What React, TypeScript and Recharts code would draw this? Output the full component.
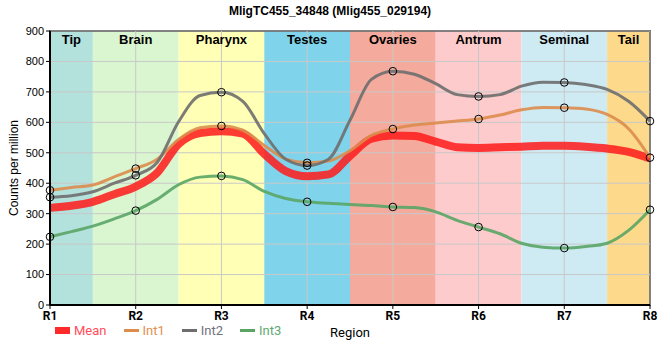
import React from 'react';
import {
  LineChart,
  Line,
  XAxis,
  YAxis,
  ReferenceArea,
  ReferenceLine,
  Legend,
} from 'recharts';

// positions along the body (R1..R8 plus readings between the regions)
const positions = [1, 1.25, 1.5, 1.75, 2, 2.25, 2.5, 2.75, 3, 3.25, 3.5, 3.75, 4, 4.25, 4.5, 4.75, 5, 5.25, 5.5, 5.75, 6, 6.25, 6.5, 6.75, 7, 7.25, 7.5, 7.75, 8];
const meanValues = [319, 326, 339, 364, 389, 434, 529, 565, 571, 563, 496, 440, 423, 429, 490, 546, 557, 555, 537, 518, 516, 518, 520, 523, 523, 520, 514, 503, 481];
const int1Values = [377, 386, 394, 421, 448, 479, 544, 582, 588, 574, 524, 479, 467, 473, 507, 557, 578, 591, 598, 604, 611, 624, 641, 649, 648, 644, 626, 579, 484];
const int2Values = [354, 359, 372, 400, 426, 468, 602, 688, 699, 669, 563, 479, 458, 479, 607, 741, 768, 758, 727, 691, 685, 691, 719, 732, 731, 724, 708, 669, 604];
const int3Values = [224, 241, 259, 283, 310, 347, 395, 420, 424, 412, 373, 350, 339, 334, 330, 327, 322, 320, 306, 278, 256, 234, 203, 190, 187, 192, 203, 245, 313];

const regionTicks = ['R1', 'R2', 'R3', 'R4', 'R5', 'R6', 'R7', 'R8'];
const regionPos = [1, 2, 3, 4, 5, 6, 7, 8];
const tissueNames = ['Tip', 'Brain', 'Pharynx', 'Testes', 'Ovaries', 'Antrum', 'Seminal', 'Tail'];
const tissueStart = [1, 1.5, 2.5, 3.5, 4.5, 5.5, 6.5, 7.5];
const tissueEnd = [1.5, 2.5, 3.5, 4.5, 5.5, 6.5, 7.5, 8];
const tissueColors = ['#b3e2dd', '#d9f6d0', '#ffffb6', '#7fd4eb', '#f4ab9d', '#fdcbcb', '#ceebf4', '#fdd98b'];

const yTicks = [0, 100, 200, 300, 400, 500, 600, 700, 800, 900];

const data = positions.map((x, i) => ({
  x,
  Mean: meanValues[i],
  Int1: int1Values[i],
  Int2: int2Values[i],
  Int3: int3Values[i],
}));

const legendItems = [
  { name: 'Mean', color: '#ff2a2a', text: '#ff4d5a', thick: true },
  { name: 'Int1', color: '#dd8c4c', text: '#e0904f', thick: false },
  { name: 'Int2', color: '#6e6e6e', text: '#707080', thick: false },
  { name: 'Int3', color: '#5aa566', text: '#5fa873', thick: false },
];

const regionDot = (p: any) => {
  if (!Number.isInteger(p.payload.x)) return <g key={`d-${p.index}`} />;
  return (
    <circle
      key={`d-${p.index}`}
      cx={p.cx}
      cy={p.cy}
      r={3.8}
      fill="none"
      stroke="#000"
      strokeWidth={1}
    />
  );
};

const renderLegend = () => (
  <div style={{ display: 'flex', alignItems: 'center', paddingLeft: 55, fontFamily: 'Roboto, sans-serif', fontSize: 13 }}>
    {legendItems.map((item) => (
      <div key={item.name} style={{ display: 'flex', alignItems: 'center', marginRight: 17 }}>
        <span
          style={{
            display: 'inline-block',
            width: 15,
            height: item.thick ? 7 : 3,
            background: item.color,
            marginRight: 4,
          }}
        />
        <span style={{ color: item.text }}>{item.name}</span>
      </div>
    ))}
  </div>
);

export default function App() {
  return (
    <div style={{ position: 'absolute', left: 0, top: 0, width: 660, height: 360, fontFamily: '"Liberation Sans", Arial, sans-serif', background: '#fff' }}>
      <div
        style={{
          position: 'absolute',
          top: 4,
          left: 0,
          width: 660,
          textAlign: 'center',
          fontWeight: 'bold',
          fontSize: 12,
        }}
      >
        MligTC455_34848 (Mlig455_029194)
      </div>
      <LineChart
        width={660}
        height={360}
        data={data}
        margin={{ top: 31, right: 10, bottom: 22, left: 0 }}
      >
        {tissueNames.map((name, i) => (
          <ReferenceArea
            key={name}
            x1={tissueStart[i]}
            x2={tissueEnd[i]}
            y1={0}
            y2={900}
            fill={tissueColors[i]}
            fillOpacity={1}
            strokeOpacity={0}
            label={{ value: name, position: 'insideTop', fontWeight: 'bold', fontSize: 13, fill: '#000', offset: 4 }}
          />
        ))}
        {yTicks.map((v) => (
          <ReferenceLine key={`gy-${v}`} y={v} stroke="#c8c8c8" strokeWidth={1} />
        ))}
        {regionPos.map((v) => (
          <ReferenceLine key={`gx-${v}`} x={v} stroke="#c8c8c8" strokeWidth={1} />
        ))}
        <XAxis
          dataKey="x"
          type="number"
          domain={[1, 8]}
          ticks={regionPos}
          tickFormatter={(v: number) => regionTicks[v - 1]}
          tick={{ fill: '#000', fontSize: 12, fontWeight: 'bold', fontFamily: 'Roboto, sans-serif' }}
          tickSize={4}
          axisLine={{ stroke: '#000', strokeWidth: 2 }}
          tickLine={{ stroke: '#000' }}
          height={18}
          label={(props: any) => {
            const vb = props.viewBox;
            return (
              <text x={vb.x + vb.width / 2} y={vb.y + 32} textAnchor="middle" fontSize={13} fill="#000" fontFamily="Roboto, sans-serif">
                Region
              </text>
            );
          }}
        />
        <YAxis
          type="number"
          domain={[0, 900]}
          ticks={yTicks}
          width={50}
          tick={{ fill: '#000', fontSize: 11 }}
          tickSize={4}
          axisLine={{ stroke: '#000', strokeWidth: 2 }}
          tickLine={{ stroke: '#000' }}
          label={(props: any) => {
            const vb = props.viewBox;
            const cx = 14;
            const cy = vb.y + vb.height / 2;
            return (
              <text x={cx} y={cy} transform={`rotate(-90 ${cx} ${cy})`} textAnchor="middle" dominantBaseline="central" fontSize={12} fill="#000">
                Counts per million
              </text>
            );
          }}
        />
        <ReferenceArea x1={1} x2={8} y1={0} y2={900} fill="none" stroke="#000" strokeWidth={1.5} />
        <Legend verticalAlign="bottom" align="left" content={renderLegend} />
        <Line type="monotone" dataKey="Mean" stroke="#ff1a1a" strokeOpacity={0.85} strokeWidth={8} dot={false} isAnimationActive={false} />
        <Line type="monotone" dataKey="Int1" stroke="#dd8c4c" strokeOpacity={0.9} strokeWidth={3} dot={regionDot} isAnimationActive={false} />
        <Line type="monotone" dataKey="Int2" stroke="#6e6e6e" strokeOpacity={0.9} strokeWidth={3} dot={regionDot} isAnimationActive={false} />
        <Line type="monotone" dataKey="Int3" stroke="#5aa566" strokeOpacity={0.9} strokeWidth={3} dot={regionDot} isAnimationActive={false} />
      </LineChart>
    </div>
  );
}
